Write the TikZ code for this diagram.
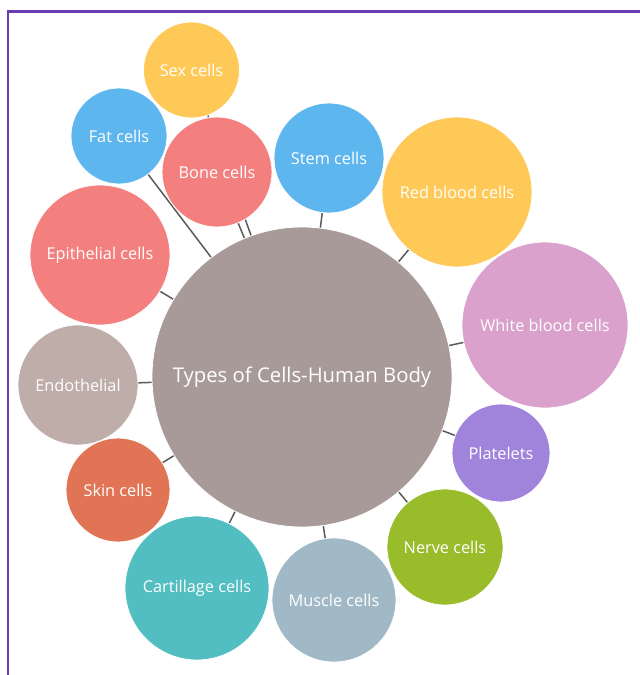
\documentclass[tikz,border=0pt]{standalone}
\usepackage{fontspec}
\setmainfont{Open Sans}
\pgfdeclarelayer{links}
\pgfsetlayers{links,main}
\definecolor{framepurple}{HTML}{6A3CB2}
\definecolor{linkgray}{HTML}{5A5A5A}
\definecolor{hubgray}{HTML}{A89A98}
\definecolor{sunyellow}{HTML}{FEC957}
\definecolor{skyblue}{HTML}{5DB6EE}
\definecolor{salmon}{HTML}{F47F7F}
\definecolor{orchid}{HTML}{D9A1CB}
\definecolor{lavender}{HTML}{A083DB}
\definecolor{leafgreen}{HTML}{98BC2A}
\definecolor{steelgray}{HTML}{A1B9C6}
\definecolor{teal}{HTML}{52BEC1}
\definecolor{terracotta}{HTML}{E07454}
\definecolor{taupe}{HTML}{BEADA9}
\begin{document}
\begin{tikzpicture}[x=1pt,y=-1pt,
  cell/.style={circle, draw=white, line width=0.8pt, text=white, inner sep=0pt,
    font=\fontsize{16.3}{19}\selectfont},
  link/.style={draw=linkgray, line width=1.5pt}]
\useasboundingbox (0,0) rectangle (640,675);
\clip (0,0) rectangle (640,675);
% outer frame (right and bottom sides run off the page)
\draw[framepurple, line width=2.5pt] (8,700) -- (8,11.5) -- (700,11.5);

% hub
\node[cell, fill=hubgray, minimum size=300pt, font=\fontsize{20.3}{24}\selectfont] (hub) at (302,377) {Types of Cells-Human Body};

% satellites
\node[cell, fill=sunyellow, minimum size=96pt]  (sex)    at (191.5,70) {Sex cells};
\node[cell, fill=skyblue,   minimum size=96pt]  (fat)    at (119,136)  {Fat cells};
\node[cell, fill=salmon,    minimum size=110pt] (bone)   at (217,172)  {Bone cells};
\node[cell, fill=skyblue,   minimum size=110pt] (stem)   at (329,158)  {Stem cells};
\node[cell, fill=sunyellow, minimum size=150pt] (red)    at (457,192)  {Red blood cells};
\node[cell, fill=orchid,    minimum size=166pt] (white)  at (545,325)  {White blood cells};
\node[cell, fill=lavender,  minimum size=98pt]  (plt)    at (501,453)  {Platelets};
\node[cell, fill=leafgreen, minimum size=116pt] (nerve)  at (445,547)  {Nerve cells};
\node[cell, fill=steelgray, minimum size=124pt] (muscle) at (334,600)  {Muscle cells};
\node[cell, fill=teal,      minimum size=144pt] (cart)   at (197,588)  {Cartillage cells};
\node[cell, fill=terracotta,minimum size=104pt] (skin)   at (118,490)  {Skin cells};
\node[cell, fill=taupe,     minimum size=120pt] (endo)   at (78,385)   {Endothelial};
\node[cell, fill=salmon,    minimum size=140pt] (epi)    at (100,255)  {Epithelial cells};

% connectors, kept underneath the circles
\begin{pgfonlayer}{links}
\foreach \n in {sex,fat,bone,stem,red,white,plt,nerve,muscle,cart,skin,endo,epi}
  \draw[link] (hub.center) -- (\n.center);
\end{pgfonlayer}
\end{tikzpicture}
\end{document}
